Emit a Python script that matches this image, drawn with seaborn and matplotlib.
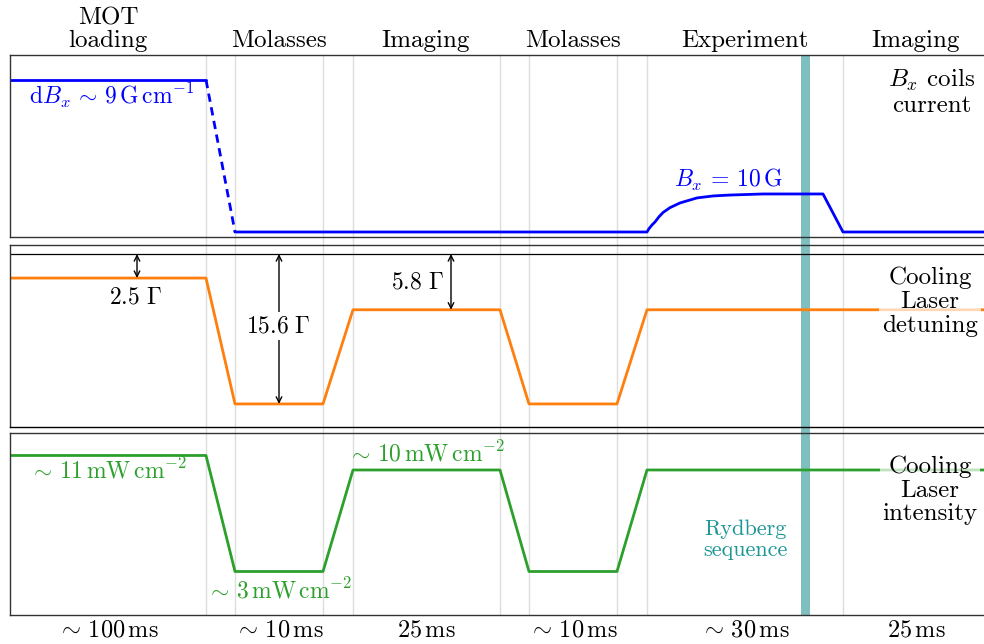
import numpy as np
import pandas as pd
import matplotlib
matplotlib.use("Agg")
import matplotlib.pyplot as plt
import seaborn as sns

# ==========================================
# data (schematic time axis, arbitrary units)
# ==========================================
phase_names = ["MOT\nloading", "Molasses", "Imaging", "Molasses", "Experiment", "Imaging"]
phase_durations = [r"$\sim\,100\,\mathrm{ms}$", r"$\sim\,10\,\mathrm{ms}$", r"$25\,\mathrm{ms}$",
                   r"$\sim\,10\,\mathrm{ms}$", r"$\sim\,30\,\mathrm{ms}$", r"$25\,\mathrm{ms}$"]
phase_centers = [108, 279, 426, 573, 745, 916]

# grey boundaries between steps
step_edges = [206, 235, 323, 353, 500, 529, 617, 647, 843]

# coil current (normalised: 1 = MOT gradient, 0.25 = Bx 10 G)
b_mot_t = [10, 206]
b_mot_v = [1.0, 1.0]
b_off_t = [206, 235]
b_off_v = [1.0, 0.0]
b_exp_t = [235, 647, 649, 652, 655, 659, 663, 670, 680, 697, 713, 730, 763, 823, 843, 990]
b_exp_v = [0.0, 0.0, 0.022, 0.046, 0.066, 0.100, 0.128, 0.160, 0.191, 0.224, 0.237, 0.243,
           0.25, 0.25, 0.0, 0.0]

# cooling laser detuning (units of Gamma)
det_t = [10, 206, 235, 323, 353, 500, 529, 617, 647, 990]
det_v = [-2.5, -2.5, -15.6, -15.6, -5.8, -5.8, -15.6, -15.6, -5.8, -5.8]

# cooling laser intensity (mW/cm^2)
int_t = [10, 206, 235, 323, 353, 500, 529, 617, 647, 990]
int_v = [11, 11, 3, 3, 10, 10, 3, 3, 10, 10]

rydberg_span = [800.5, 809.5]

blue = "#0000ff"
orange = "#ff7f0e"
green = "#2ca02c"
teal = "#1f9696"
band = "#80bfbf"

sns.set_style("white")
plt.rcParams["font.family"] = ["cmr10", "DejaVu Serif"]
plt.rcParams["mathtext.fontset"] = "cm"
plt.rcParams["axes.unicode_minus"] = False
plt.rcParams["text.color"] = "black"
fs = 18     # plain text
fm = 17     # math labels

fig = plt.figure(figsize=(9.84, 6.44), dpi=100)
W, H = 984, 644
left, right = 10, 990
h = 182
ax_b = fig.add_axes([left / W, 407 / H, (right - left) / W, h / H])
ax_d = fig.add_axes([left / W, 217 / H, (right - left) / W, h / H])
ax_i = fig.add_axes([left / W, 29 / H, (right - left) / W, h / H])

for ax in (ax_b, ax_d, ax_i):
    ax.set_xlim(left, right)
    ax.set_xticks([])
    ax.set_yticks([])
    ax.set_facecolor("none")
    for s in ax.spines.values():
        s.set_color("#333333")
        s.set_linewidth(1.0)
    ax.spines["right"].set_visible(False)

ax_b.set_ylim(-0.033, 1.164)
ax_d.set_ylim(-18.0, 0.94)
ax_i.set_ylim(0, 12.55)
ax_d.spines["bottom"].set_color("black")

# grey step boundaries and the Rydberg band, running through all three panels
ymin_frac = (29 - 407) / h
for x in step_edges:
    ax_b.axvline(x, ymin=ymin_frac, ymax=1, color="#dddddd", lw=1, clip_on=False, zorder=0)
ax_b.axvspan(rydberg_span[0], rydberg_span[1], ymin=ymin_frac, ymax=1, color=band,
             lw=0, clip_on=False, zorder=0.5)

# ---- coil current
sns.lineplot(x=b_mot_t, y=b_mot_v, ax=ax_b, color=blue, lw=2, estimator=None, sort=False)
sns.lineplot(x=b_off_t, y=b_off_v, ax=ax_b, color=blue, lw=2, estimator=None, sort=False,
             linestyle=(0, (3, 2)))
sns.lineplot(x=b_exp_t, y=b_exp_v, ax=ax_b, color=blue, lw=2, estimator=None, sort=False)
ax_b.text(112, 0.9, r"$\mathrm{d}B_x \,\sim\, 9\,\mathrm{G\,cm^{-1}}$", color=blue,
          fontsize=fm, ha="center", va="center")
ax_b.text(728, 0.345, r"$B_x \,=\, 10\,\mathrm{G}$", color=blue, fontsize=fm,
          ha="center", va="center")
ax_b.text(932, 0.92, "$B_x$ coils\ncurrent", fontsize=fs, ha="center", va="center",
          linespacing=1.1)

# ---- detuning
ax_d.axhline(0, color="black", lw=0.9)
sns.lineplot(x=det_t, y=det_v, ax=ax_d, color=orange, lw=2, estimator=None, sort=False)
arrow = dict(arrowstyle="<->", color="black", lw=1, shrinkA=0, shrinkB=0)
ax_d.annotate("", xy=(137, 0), xytext=(137, det_v[0]), arrowprops=arrow)
ax_d.text(135, -4.5, r"$2.5\ \Gamma$", fontsize=fm, ha="center", va="center")
ax_d.annotate("", xy=(279, 0), xytext=(279, det_v[2]), arrowprops=arrow)
ax_d.text(278, -7.5, r"$15.6\ \Gamma$", fontsize=fm, ha="center", va="center",
          bbox=dict(facecolor="white", edgecolor="none", pad=2))
ax_d.annotate("", xy=(451, 0), xytext=(451, det_v[4]), arrowprops=arrow)
ax_d.text(417, -3.0, r"$5.8\ \Gamma$", fontsize=fm, ha="center", va="center")
ax_d.text(930, -5.0, "Cooling\nLaser\ndetuning", fontsize=fs, ha="center", va="center",
          linespacing=1.1, zorder=5,
          bbox=dict(facecolor="white", edgecolor="none", alpha=0.7, pad=2))

# ---- intensity
sns.lineplot(x=int_t, y=int_v, ax=ax_i, color=green, lw=2, estimator=None, sort=False)
ax_i.text(108, 9.97, r"$\sim\,11\,\mathrm{mW\,cm^{-2}}$", color=green, fontsize=fm,
          ha="center", va="center")
ax_i.text(279, 1.7, r"$\sim\,3\,\mathrm{mW\,cm^{-2}}$", color=green, fontsize=fm,
          ha="center", va="center")
ax_i.text(426, 11.1, r"$\sim\,10\,\mathrm{mW\,cm^{-2}}$", color=green, fontsize=fm,
          ha="center", va="center")
ax_i.text(745, 5.2, "Rydberg\nsequence", color=teal, fontsize=16, ha="center",
          va="center", linespacing=1.1)
ax_i.text(930, 8.6, "Cooling\nLaser\nintensity", fontsize=fs, ha="center", va="center",
          linespacing=1.1, zorder=5,
          bbox=dict(facecolor="white", edgecolor="none", alpha=0.7, pad=2))

# phase names on top, durations at the bottom
for name, dur, xc in zip(phase_names, phase_durations, phase_centers):
    ax_b.text(xc, 1 + 8 / h, name, fontsize=fs, ha="center", va="baseline",
              transform=ax_b.get_xaxis_transform(), linespacing=1.0)
    ax_i.text(xc, -15 / h, dur, fontsize=17.5, ha="center", va="center",
              transform=ax_i.get_xaxis_transform())

for ax in (ax_b, ax_d, ax_i):
    ax.set_xlabel("")
    ax.set_ylabel("")

fig.savefig("out.png", dpi=100)
